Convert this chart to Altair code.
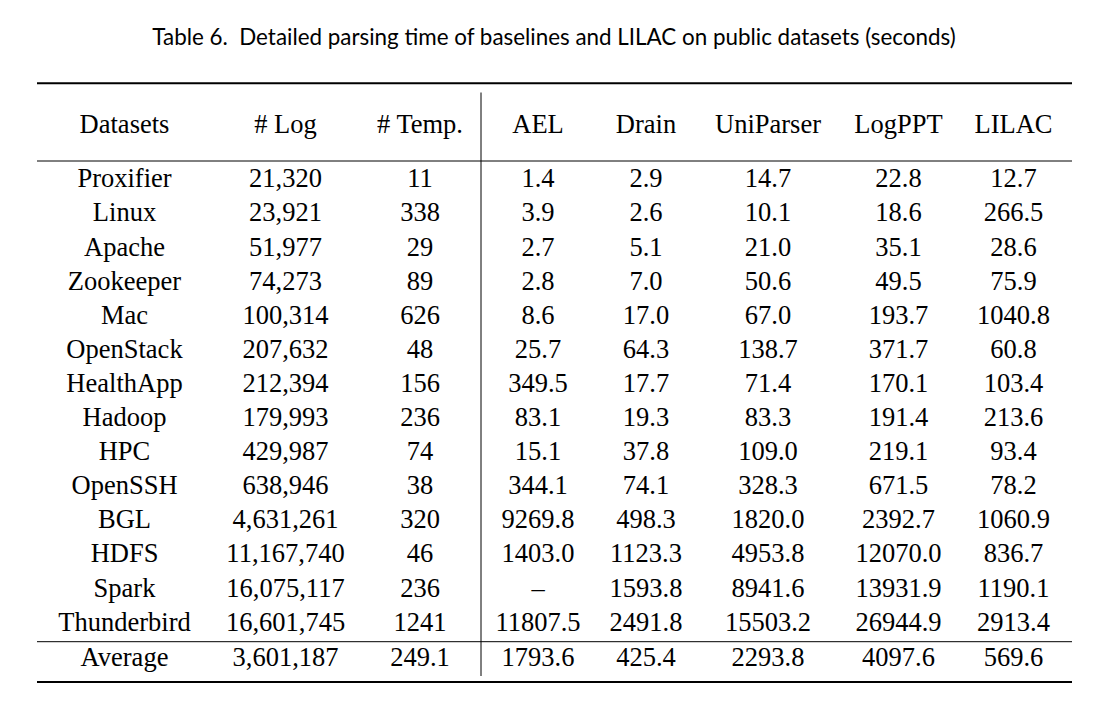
import altair as alt
import pandas as pd

title_text = "Table 6.\u00a0 Detailed parsing time of baselines and LILAC on public datasets (seconds)"

columns = ["Datasets", "# Log", "# Temp.", "AEL", "Drain", "UniParser", "LogPPT", "LILAC"]

datasets = ["Proxifier", "Linux", "Apache", "Zookeeper", "Mac", "OpenStack", "HealthApp",
            "Hadoop", "HPC", "OpenSSH", "BGL", "HDFS", "Spark", "Thunderbird", "Average"]
n_log = ["21,320", "23,921", "51,977", "74,273", "100,314", "207,632", "212,394", "179,993",
         "429,987", "638,946", "4,631,261", "11,167,740", "16,075,117", "16,601,745", "3,601,187"]
n_temp = ["11", "338", "29", "89", "626", "48", "156", "236", "74", "38", "320", "46", "236",
          "1241", "249.1"]
ael = ["1.4", "3.9", "2.7", "2.8", "8.6", "25.7", "349.5", "83.1", "15.1", "344.1", "9269.8",
       "1403.0", "\u2013", "11807.5", "1793.6"]
drain = ["2.9", "2.6", "5.1", "7.0", "17.0", "64.3", "17.7", "19.3", "37.8", "74.1", "498.3",
         "1123.3", "1593.8", "2491.8", "425.4"]
uniparser = ["14.7", "10.1", "21.0", "50.6", "67.0", "138.7", "71.4", "83.3", "109.0", "328.3",
             "1820.0", "4953.8", "8941.6", "15503.2", "2293.8"]
logppt = ["22.8", "18.6", "35.1", "49.5", "193.7", "371.7", "170.1", "191.4", "219.1", "671.5",
          "2392.7", "12070.0", "13931.9", "26944.9", "4097.6"]
lilac = ["12.7", "266.5", "28.6", "75.9", "1040.8", "60.8", "103.4", "213.6", "93.4", "78.2",
         "1060.9", "836.7", "1190.1", "2913.4", "569.6"]

table_cols = [datasets, n_log, n_temp, ael, drain, uniparser, logppt, lilac]

records = []
for ci, name in enumerate(columns):
    records.append({"row": 0, "col": ci, "text": name})
    for ri, val in enumerate(table_cols[ci]):
        records.append({"row": ri + 1, "col": ci, "text": val})
df = pd.DataFrame(records)

# layout of the scales (pixel positions of column centres and row baselines)
x_range = [116.5, 277.5, 412, 530, 638, 760, 890.5, 1005.5]
y_range = [125] + [179.3 + 34.1 * i for i in range(14)] + [657.7]

FONT = "Liberation Serif"
FS = 26.5

cells = alt.Chart(df).mark_text(
    font=FONT, fontSize=FS, baseline="alphabetic", align="center", color="black"
).encode(
    x=alt.X("col:Q", axis=None,
            scale=alt.Scale(domain=list(range(8)), range=x_range)),
    y=alt.Y("row:Q", axis=None,
            scale=alt.Scale(domain=list(range(16)), range=y_range)),
    text="text:N",
)

one = alt.Data(values=[{}])

def hrule(y, w):
    return alt.Chart(one).mark_rule(color="black", strokeWidth=w).encode(
        x=alt.value(29), x2=alt.value(1064), y=alt.value(y))

vrule = alt.Chart(one).mark_rule(color="black", strokeWidth=1).encode(
    x=alt.value(473), y=alt.value(84.5), y2=alt.value(668))

title = alt.Chart(one).mark_text(
    font="Lato", fontSize=22.4, align="center", baseline="alphabetic", color="black"
).encode(x=alt.value(546), y=alt.value(37), text=alt.value(title_text))

chart = alt.layer(
    cells,
    hrule(75.3, 2), hrule(153, 1), hrule(633.7, 1), hrule(674, 2),
    vrule, title,
).properties(width=1100, height=694, padding=0, autosize="none").configure_view(stroke=None)

chart.save("out.html", embed_options={"renderer": "svg", "actions": False})
